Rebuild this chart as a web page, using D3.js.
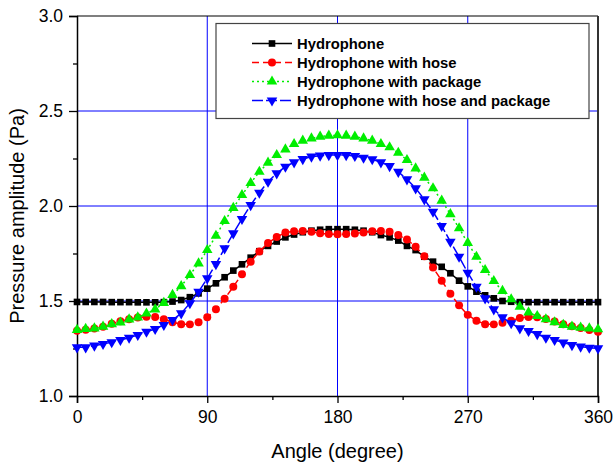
<!DOCTYPE html>
<html><head><meta charset="utf-8">
<script src="https://cdn.jsdelivr.net/npm/d3@7"></script>
<style>body{margin:0;background:#fff}svg{display:block}text{font-family:Arial,"Liberation Sans",sans-serif}</style>
</head><body><svg id="c" width="613" height="463"></svg>
<script>
const angles = d3.range(0, 361, 6);
const hydrophone = [1.495,1.495,1.495,1.495,1.494,1.494,1.494,1.493,1.493,1.493,1.494,1.497,1.505,1.52,1.54,1.565,1.593,1.625,1.66,1.693,1.728,1.762,1.79,1.813,1.835,1.85,1.862,1.87,1.875,1.878,1.878,1.878,1.875,1.87,1.862,1.847,1.835,1.818,1.79,1.768,1.733,1.707,1.68,1.646,1.607,1.577,1.549,1.53,1.514,1.50,1.496,1.494,1.494,1.494,1.494,1.494,1.494,1.494,1.494,1.494,1.494];
const withHose = [1.344,1.349,1.355,1.365,1.38,1.393,1.404,1.413,1.417,1.416,1.404,1.388,1.378,1.377,1.388,1.414,1.457,1.512,1.575,1.641,1.707,1.76,1.805,1.837,1.86,1.867,1.868,1.865,1.857,1.852,1.851,1.852,1.855,1.861,1.867,1.868,1.864,1.847,1.824,1.786,1.735,1.676,1.607,1.538,1.477,1.427,1.396,1.378,1.377,1.385,1.396,1.41,1.416,1.414,1.405,1.392,1.378,1.367,1.358,1.347,1.338];
const withPackage = [1.348,1.353,1.356,1.365,1.378,1.387,1.403,1.414,1.434,1.456,1.49,1.532,1.578,1.637,1.698,1.768,1.843,1.921,1.99,2.058,2.121,2.18,2.228,2.268,2.298,2.326,2.344,2.356,2.365,2.37,2.372,2.37,2.365,2.356,2.344,2.326,2.309,2.28,2.242,2.198,2.149,2.093,2.028,1.957,1.883,1.806,1.733,1.663,1.605,1.553,1.509,1.47,1.44,1.421,1.404,1.388,1.374,1.365,1.36,1.356,1.351];
const withHoseAndPackage = [1.256,1.256,1.265,1.274,1.283,1.295,1.307,1.321,1.338,1.353,1.374,1.40,1.435,1.488,1.549,1.619,1.694,1.777,1.856,1.932,2.005,2.07,2.128,2.172,2.207,2.23,2.247,2.26,2.265,2.268,2.268,2.268,2.263,2.254,2.246,2.23,2.21,2.18,2.14,2.093,2.035,1.97,1.895,1.812,1.733,1.649,1.575,1.514,1.456,1.414,1.383,1.356,1.342,1.326,1.307,1.295,1.281,1.268,1.26,1.254,1.251];
const seriesNames = ["Hydrophone","Hydrophone with hose","Hydrophone with package","Hydrophone with hose and package"];
const xTicks = [0,90,180,270,360];
const xMinor = [45,135,225,315];
const yTicks = [1.0,1.5,2.0,2.5,3.0];
const yMinor = [1.25,1.75,2.25,2.75];

const svg = d3.select("#c");
const x = d3.scaleLinear().domain([0,360]).range([77,598]);
const y = d3.scaleLinear().domain([1,3]).range([396,16]);

const series = [
  {name:seriesNames[0], vals:hydrophone, color:"#000000", dash:null, sym:d3.symbolSquare, size:44, rot:0},
  {name:seriesNames[1], vals:withHose, color:"#ff0000", dash:"7,4", sym:d3.symbolCircle, size:50, rot:0},
  {name:seriesNames[2], vals:withPackage, color:"#00ee00", dash:"2,3", sym:d3.symbolTriangle, size:48, rot:0},
  {name:seriesNames[3], vals:withHoseAndPackage, color:"#0000ff", dash:"11,3", sym:d3.symbolTriangle, size:48, rot:180}
];

// grid
const g = svg.append("g");
g.selectAll(".gx").data(xTicks.slice(1,-1)).enter().append("line")
  .attr("x1",d=>x(d)).attr("x2",d=>x(d)).attr("y1",y(1)).attr("y2",y(3))
  .attr("stroke","#0000ff").attr("stroke-width",1);
g.selectAll(".gy").data(yTicks.slice(1,-1)).enter().append("line")
  .attr("x1",x(0)).attr("x2",x(360)).attr("y1",d=>y(d)).attr("y2",d=>y(d))
  .attr("stroke","#0000ff").attr("stroke-width",1);

// frame top/right
svg.append("line").attr("x1",x(0)).attr("x2",x(360)).attr("y1",y(3)).attr("y2",y(3)).attr("stroke","#000").attr("stroke-width",1.2);
svg.append("line").attr("x1",x(360)).attr("x2",x(360)).attr("y1",y(3)).attr("y2",y(1)).attr("stroke","#333").attr("stroke-width",2);

// axes
const xAxis = d3.axisBottom(x).tickValues(xTicks).tickFormat(d3.format("d")).tickSize(7).tickPadding(8);
svg.append("g").attr("transform",`translate(0,${y(1)})`).call(xAxis);
const xAxisMinor = d3.axisBottom(x).tickValues(xMinor).tickFormat("").tickSize(4);
svg.append("g").attr("transform",`translate(0,${y(1)})`).call(xAxisMinor).select(".domain").remove();
const yAxis = d3.axisLeft(y).tickValues(yTicks).tickFormat(d3.format(".1f")).tickSize(8).tickPadding(6);
svg.append("g").attr("transform",`translate(${x(0)},0)`).call(yAxis);
const yAxisMinor = d3.axisLeft(y).tickValues(yMinor).tickFormat("").tickSize(4);
svg.append("g").attr("transform",`translate(${x(0)},0)`).call(yAxisMinor).select(".domain").remove();
svg.selectAll(".domain").attr("stroke","#000").attr("stroke-width",1.5);
svg.selectAll(".tick line").attr("stroke","#000").attr("stroke-width",1.3);
svg.selectAll(".tick text").attr("font-size",17.5).attr("fill","#000").attr("font-family","Arial, 'Liberation Sans', sans-serif");

// labels
svg.append("text").attr("x",(x(0)+x(360))/2).attr("y",458).attr("text-anchor","middle")
  .attr("font-size",20).text("Angle (degree)");
svg.append("text").attr("transform",`translate(24,216) rotate(-90)`).attr("text-anchor","middle")
  .attr("font-size",20).text("Pressure amplitude (Pa)");

// series
const line = d3.line().x((d,i)=>x(angles[i])).y(d=>y(d));
series.forEach(s=>{
  svg.append("path").datum(s.vals).attr("d",line).attr("fill","none")
    .attr("stroke",s.color).attr("stroke-width",1.5).attr("stroke-dasharray",s.dash);
  svg.append("g").selectAll("path").data(s.vals).enter().append("path")
    .attr("d",d3.symbol().type(s.sym).size(s.size))
    .attr("transform",(d,i)=>`translate(${x(angles[i])},${y(d)}) rotate(${s.rot})`)
    .attr("fill",s.color);
});

// legend
const lg = svg.append("g");
lg.append("rect").attr("x",216).attr("y",23.5).attr("width",373).attr("height",95)
  .attr("fill","#fff").attr("stroke","#444").attr("stroke-width",1.2);
series.forEach((s,i)=>{
  const yy = 43.5 + i*19;
  lg.append("line").attr("x1",252).attr("x2",292).attr("y1",yy).attr("y2",yy)
    .attr("stroke",s.color).attr("stroke-width",1.5).attr("stroke-dasharray",s.dash);
  lg.append("path").attr("d",d3.symbol().type(s.sym).size(s.size))
    .attr("transform",`translate(272,${yy}) rotate(${s.rot})`).attr("fill",s.color);
  lg.append("text").attr("x",297).attr("y",yy+5).attr("font-size",14.8).attr("font-weight","bold").text(s.name);
});
</script></body></html>
